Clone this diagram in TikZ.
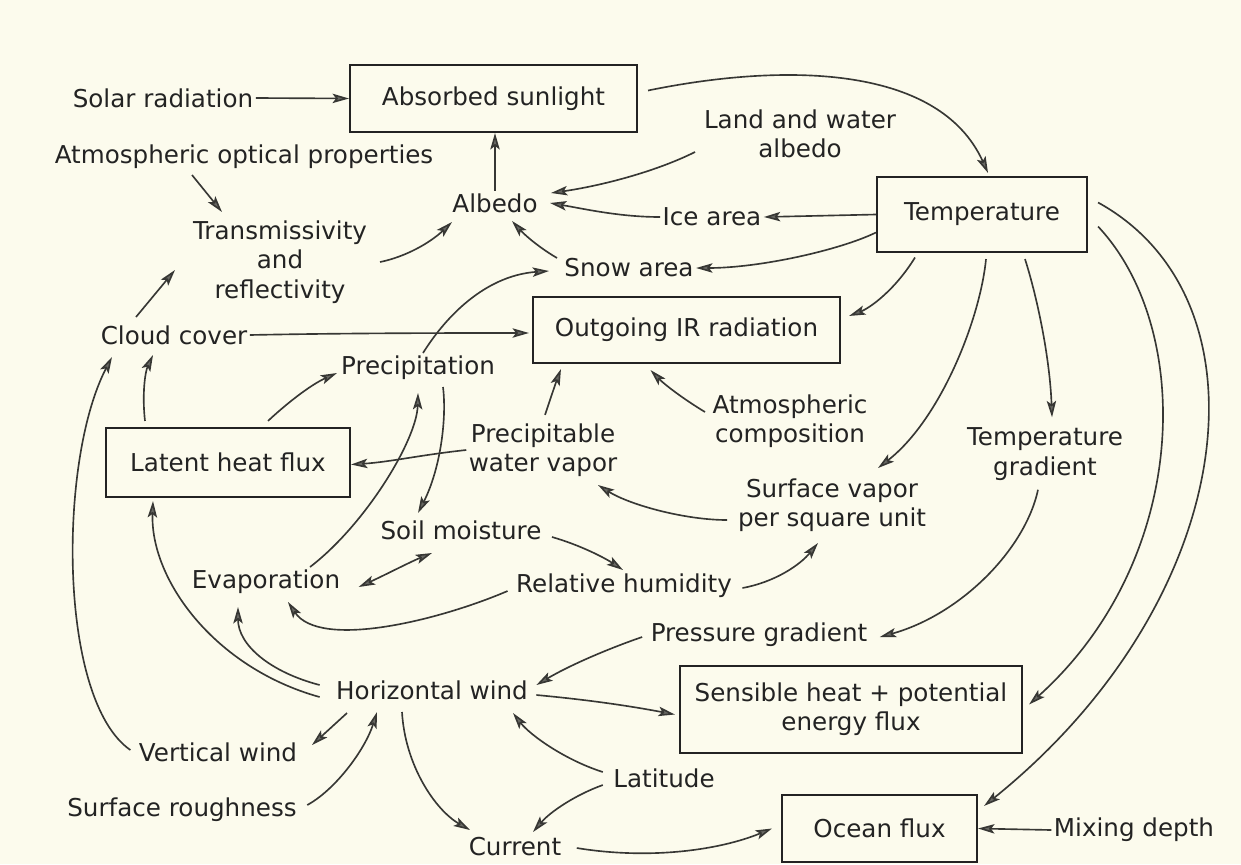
\documentclass[tikz,border=0pt]{standalone}
\usepackage{fontspec}
\setmainfont{DejaVu Sans}
\usetikzlibrary{arrows.meta,calc}
\definecolor{paper}{RGB}{252,251,237}
\definecolor{ink}{RGB}{35,35,35}
\definecolor{wire}{RGB}{55,55,52}
\definecolor{tip-gray}{RGB}{105,105,100}

\begin{document}
\begin{tikzpicture}[
    x=0.03cm, y=-0.03cm,
    gtip/.tip = {Stealth[length=14pt,width=8pt,inset=3pt,fill=tip-gray]},
    txt/.style = {font=\fontsize{21}{25}\selectfont, text=ink,
                  align=center, inner sep=2pt},
    box/.style = {txt, rectangle, draw=ink, line width=1.8pt},
    arrow/.style = {draw=wire, line width=1.4pt, -gtip},
    both/.style = {arrow, gtip-gtip}
  ]
    \path[use as bounding box, fill=paper] (0,0) rectangle (1241,864);

    %% ---- radiation part (top) ----
    \node[txt] (solar) at (163,98) {Solar radiation};
    \node[box, minimum width=8.61cm, minimum height=2.01cm] (absorbed)
      at (493.5,98.5) {Absorbed sunlight};
    \node[txt] (atmopt) at (244,157) {Atmospheric optical properties};
    \node[txt] (landalb) at (800,134) {Land and water\\albedo};
    \node[txt] (albedo) at (495,203) {Albedo};
    \node[txt] (ice) at (712,217) {Ice area};
    \node[box, minimum width=6.3cm, minimum height=2.25cm] (temp)
      at (982,214.5) {Temperature};
    \node[txt] (trans) at (280,262) {Transmissivity\\and\\reflectivity};
    \node[txt] (snow) at (629,268) {Snow area};
    \node[box, minimum width=9.21cm, minimum height=1.98cm] (outir)
      at (686.5,330) {Outgoing IR radiation};
    \node[txt] (cloud) at (174,335) {Cloud cover};

    %% ---- water part (middle) ----
    \node[txt] (precip) at (418,368) {Precipitation};
    \node[box, minimum width=7.32cm, minimum height=2.07cm] (latent)
      at (228,462.5) {Latent heat flux};
    \node[txt] (pwv) at (543,450) {Precipitable\\water vapor};
    \node[txt] (atmcomp) at (790,421) {Atmospheric\\composition};
    \node[txt] (tgrad) at (1045,454) {Temperature\\gradient};
    \node[txt] (svapor) at (832,505) {Surface vapor\\per square unit};
    \node[txt] (soil) at (461,530) {Soil moisture};
    \node[txt] (evap) at (266,582) {Evaporation};
    \node[txt] (relhum) at (624,586) {Relative humidity};

    %% ---- dynamics part (bottom) ----
    \node[txt] (pgrad) at (759,635) {Pressure gradient};
    \node[txt] (hwind) at (432,690) {Horizontal wind};
    \node[box, minimum width=10.26cm, minimum height=2.61cm] (sensible)
      at (851,709.5) {Sensible heat + potential\\energy flux};
    \node[txt] (vwind) at (218,752) {Vertical wind};
    \node[txt] (latitude) at (664,778) {Latitude};
    \node[txt] (rough) at (182,810) {Surface roughness};
    \node[txt] (current) at (515,847) {Current};
    \node[box, minimum width=5.85cm, minimum height=2.01cm] (ocean)
      at (879.5,828.5) {Ocean flux};
    \node[txt] (mixing) at (1134,830) {Mixing depth};

    %% ---- radiation links ----
    \draw[arrow] (solar.east) -- (absorbed.west);
    \draw[arrow] ($(absorbed.east)+(10,-8)$) .. controls (777,64) and (938,62)
      .. ($(temp.north)+(6,-3)$);
    \draw[arrow] (albedo.north) -- (albedo.north |- absorbed.south);
    \draw[arrow] ($(atmopt)+(-52,18)$) -- ($(trans)+(-58,-50)$);
    \draw[arrow] ($(trans)+(100,0)$) .. controls (405,257) and (430,243)
      .. ($(albedo)+(-43,19)$);
    \draw[arrow] ($(landalb)+(-105,18)$) .. controls (655,172) and (600,186)
      .. ($(albedo)+(56,-10)$);
    \draw[arrow] (ice.west) .. controls (620,217) and (585,209)
      .. ($(albedo)+(55,0)$);
    \draw[arrow] (temp.west) -- (ice.east);
    \draw[arrow] ($(temp.west)+(0,18)$) .. controls (840,250) and (760,268)
      .. (snow.east);
    \draw[arrow] ($(snow)+(-72,-10)$) .. controls (535,245) and (522,232)
      .. ($(albedo)+(17,18)$);
    \draw[arrow] ($(precip)+(5,-15)$) .. controls (450,310) and (490,275)
      .. ($(snow)+(-80,3)$);
    \draw[arrow] ($(temp)+(-67,43)$) .. controls (895,290) and (870,308)
      .. ($(outir.north east)+(8,20)$);
    \draw[arrow] (cloud.east) .. controls (350,333) and (450,333)
      .. ($(outir.west)+(-3,3)$);
    \draw[arrow] ($(cloud)+(-38,-18)$) -- ($(trans)+(-105,8)$);
    \draw[arrow] ($(latent.north)+(-83,-6)$) .. controls (142,395) and (145,372)
      .. ($(cloud)+(-21,20)$);
    \draw[arrow] ($(vwind.west)+(-6,-2)$) .. controls (58,700) and (58,460)
      .. ($(cloud)+(-62,22)$);

    %% ---- water links ----
    \draw[arrow] ($(latent.north)+(40,-6)$) .. controls (285,405) and (310,385)
      .. ($(precip)+(-81,5)$);
    \draw[arrow] ($(evap)+(44,-15)$) .. controls (365,525) and (417,440)
      .. ($(precip)+(0,25)$);
    \draw[arrow] ($(precip)+(25,19)$) .. controls (447,420) and (440,470)
      .. ($(soil)+(-43,-17)$);
    \draw[arrow] (pwv.west) .. controls (420,455) and (390,462)
      .. ($(latent.east)+(0,2)$);
    \draw[arrow] ($(pwv.north)+(2,-6)$) .. controls (550,400) and (555,385)
      .. ($(outir.south west)+(29,5)$);
    \draw[arrow] ($(atmcomp)+(-85,-9)$) .. controls (685,400) and (665,385)
      .. ($(outir.south)+(-36,6)$);
    \draw[arrow] ($(temp.south)+(43,6)$) .. controls (1038,300) and (1050,360)
      .. ($(tgrad.north)+(7,-8)$);
    \draw[arrow] ($(temp.south)+(4,6)$) .. controls (980,320) and (940,420)
      .. ($(svapor)+(46,-37)$);
    \draw[arrow] ($(svapor)+(-105,15)$) .. controls (685,520) and (630,505)
      .. ($(pwv)+(55,35)$);
    \draw[arrow] ($(soil.east)+(8,7)$) .. controls (580,545) and (605,558)
      .. ($(relhum)+(-1,-16)$);
    \draw[both] ($(evap.east)+(16,5)$) .. controls (385,575) and (410,562)
      .. ($(soil)+(-29,23)$);
    \draw[arrow] ($(relhum.east)+(8,2)$) .. controls (775,582) and (800,565)
      .. ($(svapor)+(-14,38)$);
    \draw[arrow] ($(relhum.west)+(-6,5)$) .. controls (440,620) and (320,650)
      .. ($(evap)+(22,20)$);

    %% ---- temperature to the fluxes (far right) ----
    \draw[arrow] ($(tgrad.south)+(-7,7)$) .. controls (1025,550) and (960,615)
      .. ($(pgrad.east)+(10,2)$);
    \draw[arrow] ($(temp.east)+(10,12)$) .. controls (1195,330) and (1190,560)
      .. ($(sensible.east)+(6,-5)$);
    \draw[arrow] ($(temp.east)+(10,-12)$) .. controls (1275,300) and (1240,600)
      .. ($(ocean.north east)+(6,12)$);

    %% ---- wind links ----
    \draw[arrow] ($(pgrad.west)+(-6,2)$) .. controls (610,648) and (570,665)
      .. ($(hwind.east)+(6,-5)$);
    \draw[arrow] ($(hwind.east)+(6,5)$) .. controls (590,700) and (630,706)
      .. ($(sensible.west)+(-4,5)$);
    \draw[arrow] ($(hwind.west)+(-14,7)$) .. controls (215,668) and (150,580)
      .. ($(latent.south)+(-75,3)$);
    \draw[arrow] ($(hwind.west)+(-14,-5)$) .. controls (270,672) and (238,645)
      .. ($(evap)+(-28,25)$);
    \draw[arrow] ($(hwind)+(-85,23)$) -- ($(vwind)+(94,-7)$);
    \draw[arrow] ($(rough.east)+(8,-5)$) .. controls (335,790) and (365,750)
      .. ($(hwind)+(-55,22)$);
    \draw[arrow] ($(hwind)+(-30,22)$) .. controls (405,765) and (435,810)
      .. ($(current)+(-45,-17)$);
    \draw[arrow] ($(latitude.west)+(-8,-6)$) .. controls (565,760) and (530,735)
      .. ($(hwind)+(81,23)$);
    \draw[arrow] ($(latitude.west)+(-8,7)$) .. controls (575,795) and (550,812)
      .. ($(current)+(18,-15)$);
    \draw[arrow] ($(current.east)+(13,1)$) .. controls (650,860) and (720,850)
      .. ($(ocean.west)+(-9,0)$);
    \draw[arrow] (mixing.west) -- (ocean.east);

  \end{tikzpicture}
\end{document}
